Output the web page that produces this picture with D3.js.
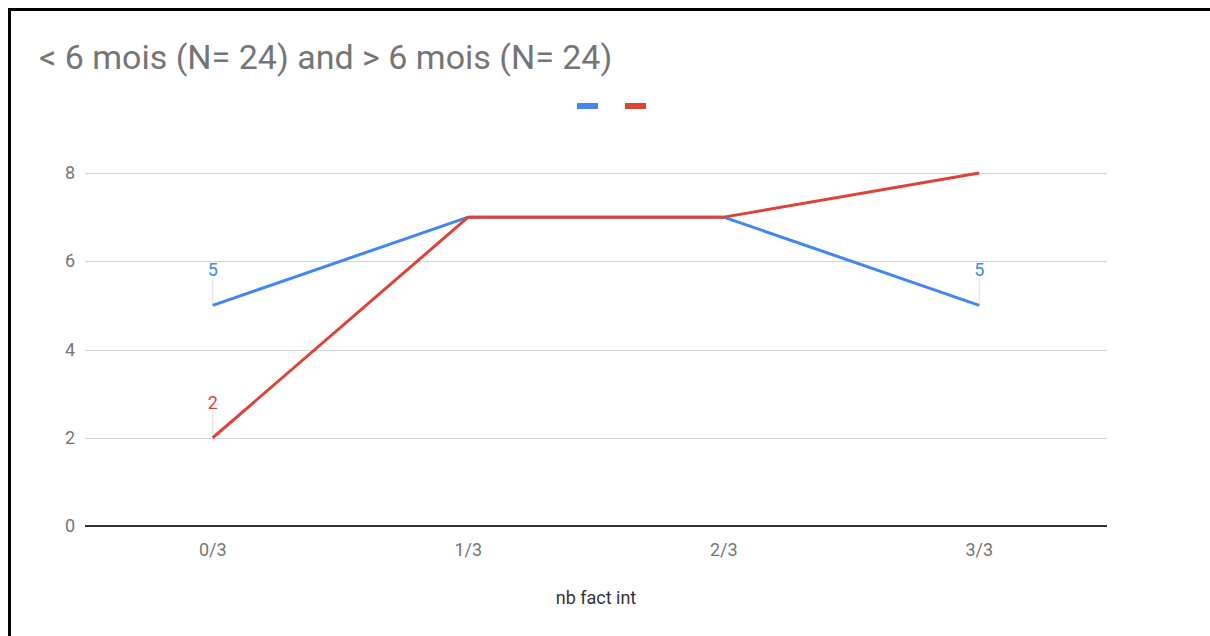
<!DOCTYPE html>
<html><head><meta charset="utf-8">
<script src="https://cdn.jsdelivr.net/npm/d3@7"></script>
<style>body{margin:0;background:#fff;} text{font-family:Roboto, "Open Sans", sans-serif;}</style>
</head><body>
<svg id="c" width="1210" height="636"></svg>
<script>
const categories = ["0/3","1/3","2/3","3/3"];
const seriesNames = ["< 6 mois (N= 24)", "> 6 mois (N= 24)"];
const blueValues = [5,7,7,5];
const redValues = [2,7,7,8];
const yTicks = [0,2,4,6,8];
const labelled = [[0,3],[0]]; // indexes with data labels per series
const colors = ["#4285F4","#DB4437"];

const svg = d3.select("#c");
svg.append("rect").attr("width",1210).attr("height",636).attr("fill","#fff");
// border
svg.append("path").attr("d","M9.5,636 V9.5 H1210").attr("fill","none").attr("stroke","#000").attr("stroke-width",3);

const x = d3.scaleBand().domain(categories).range([85,1107]);
const y = d3.scaleLinear().domain([0,8]).range([526,173]);

svg.append("text").attr("x",39).attr("y",69).attr("font-size",34).attr("fill","#757575")
  .text(seriesNames[0] + " and " + seriesNames[1]);

// legend
[0,1].forEach(i=>{
  svg.append("rect").attr("x",577+i*48).attr("y",103).attr("width",21).attr("height",6).attr("fill",colors[i]);
});

// grid
svg.append("g").selectAll("line").data(yTicks.filter(d=>d>0)).join("line")
  .attr("x1",85).attr("x2",1107).attr("y1",d=>Math.round(y(d))+0.5).attr("y2",d=>Math.round(y(d))+0.5)
  .attr("stroke","#d3d3d3").attr("stroke-width",1);
svg.append("g").selectAll("text").data(yTicks).join("text")
  .attr("x",75).attr("y",d=>y(d)+6).attr("text-anchor","end").attr("font-size",18).attr("fill","#757575").text(d=>d);

// x labels
svg.append("g").selectAll("text").data(categories).join("text")
  .attr("x",d=>x(d)+x.bandwidth()/2).attr("y",556).attr("text-anchor","middle").attr("font-size",18).attr("fill","#757575").text(d=>d);
svg.append("text").attr("x",596).attr("y",604).attr("text-anchor","middle").attr("font-size",18).attr("fill","#333").text("nb fact int");

const cx = d=>x(d)+x.bandwidth()/2;
const line = d3.line().x((d,i)=>cx(categories[i])).y(d=>y(d));
[blueValues, redValues].forEach((vals,si)=>{
  labelled[si].forEach(i=>{
    const px = cx(categories[i]), py = y(vals[i]);
    svg.append("line").attr("x1",px).attr("x2",px).attr("y1",py-26).attr("y2",py).attr("stroke","#ddd").attr("stroke-width",1);
    svg.append("text").attr("x",px).attr("y",py-29).attr("text-anchor","middle").attr("font-size",18).attr("fill",colors[si]).text(vals[i]);
  });
});
[blueValues, redValues].forEach((vals,si)=>{
  svg.append("path").datum(vals).attr("d",line).attr("fill","none").attr("stroke",colors[si]).attr("stroke-width",3).attr("stroke-linejoin","round");
});
svg.append("line").attr("x1",85).attr("x2",1107).attr("y1",y(0)).attr("y2",y(0)).attr("stroke","#333").attr("stroke-width",2);
</script>
</body></html>
